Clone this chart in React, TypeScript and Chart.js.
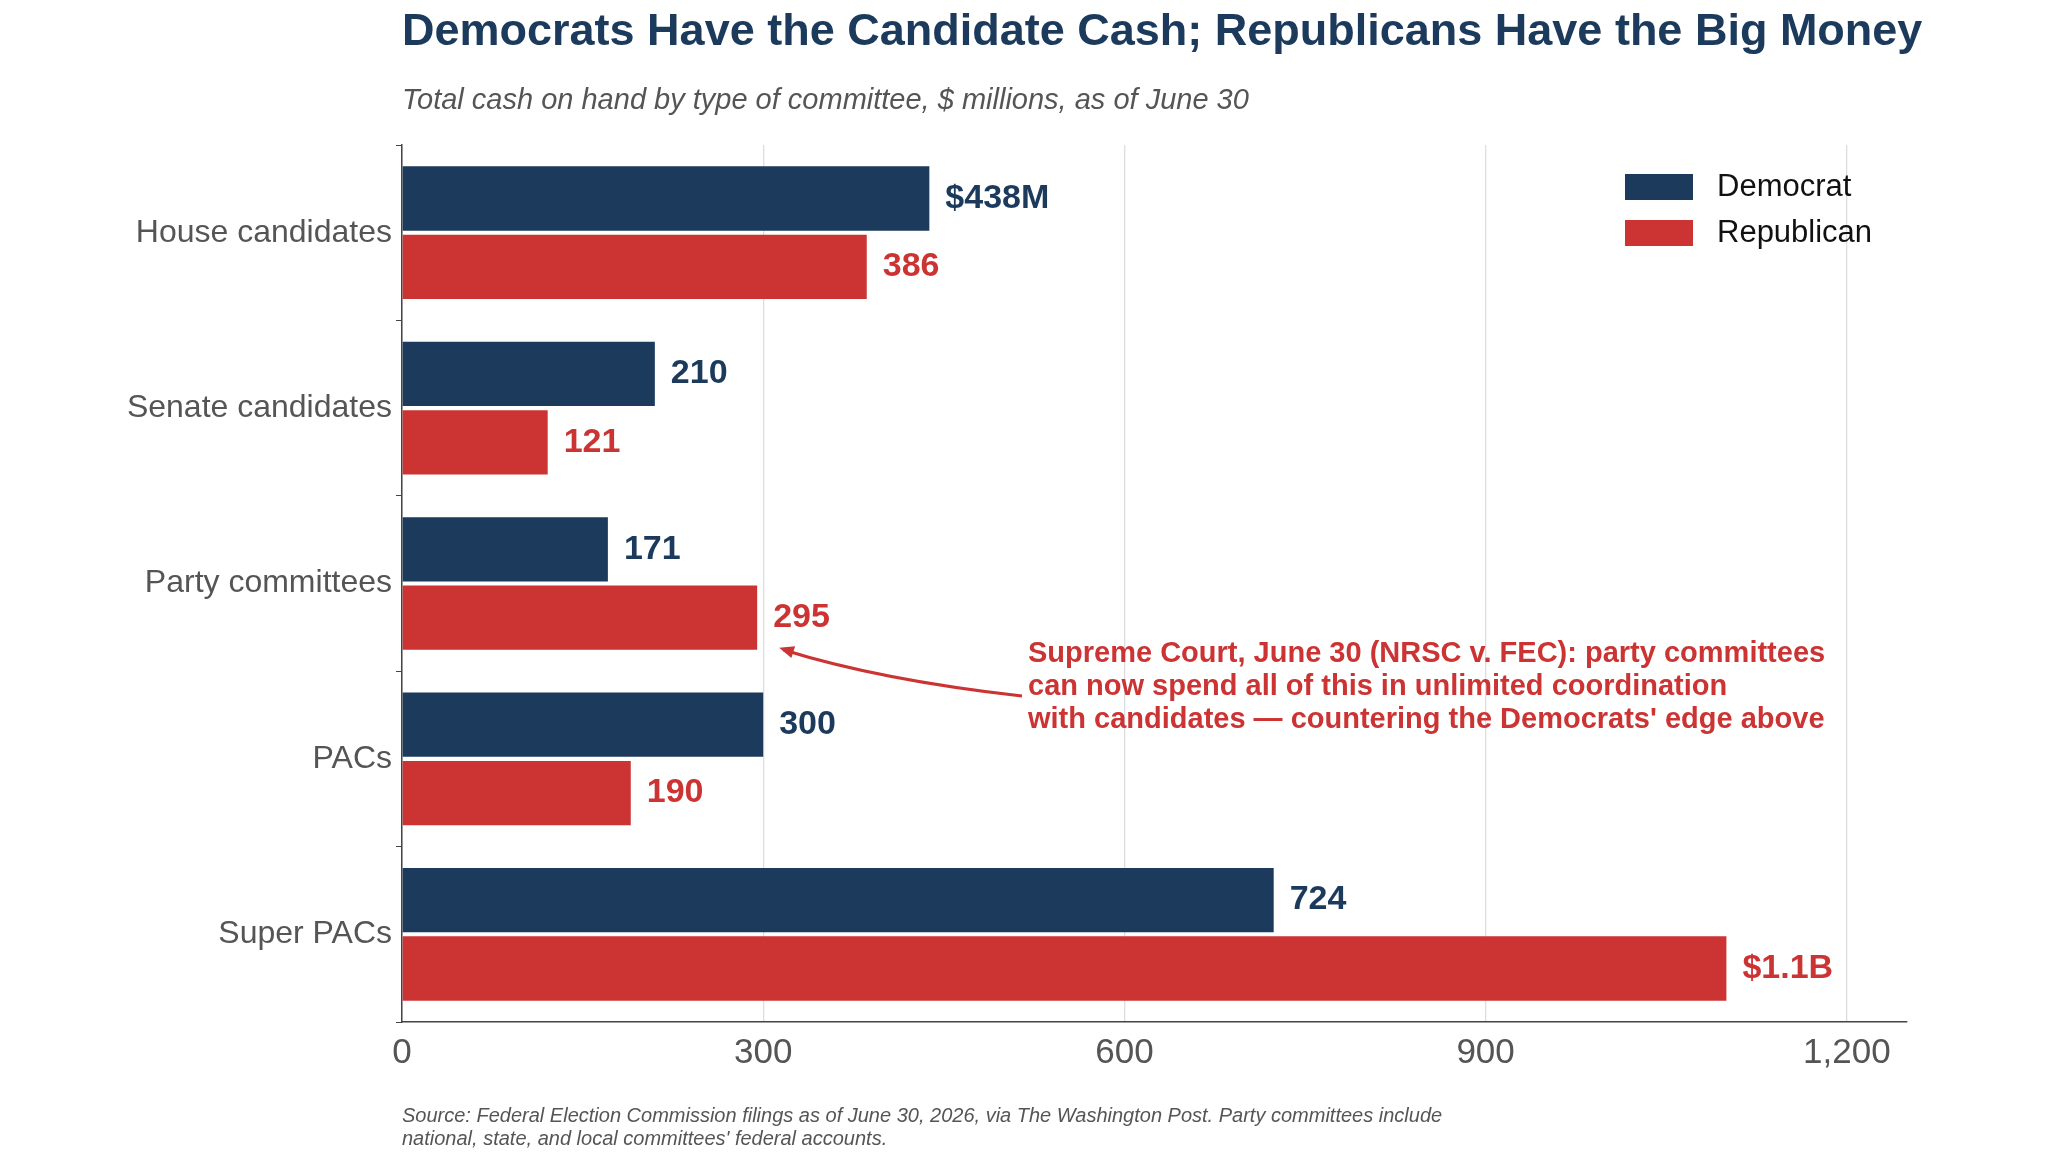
import React, { useEffect, useRef } from "react";
import { Chart, registerables } from "chart.js";
Chart.register(...registerables);

const categories = ["House candidates", "Senate candidates", "Party committees", "PACs", "Super PACs"];
const democrat = [438, 210, 171, 300, 724];
const republican = [386, 121, 295, 190, 1100];
const demLabels = ["$438M", "210", "171", "300", "724"];
const repLabels = ["386", "121", "295", "190", "$1.1B"];
const xTicks = [0, 300, 600, 900, 1200];

const NAVY = "#1b3a5c";
const RED = "#cc3333";
const FONT = "'Liberation Sans', Arial, sans-serif";

export default function App() {
  const ref = useRef<HTMLCanvasElement>(null);
  useEffect(() => {
    const overlay = {
      id: "overlay",
      afterDraw(chart: any) {
        const ctx = chart.ctx;
        ctx.save();
        ctx.textBaseline = "middle";
        ctx.textAlign = "left";
        ctx.fillStyle = NAVY;
        ctx.font = `bold 45px ${FONT}`;
        ctx.fillText("Democrats Have the Candidate Cash; Republicans Have the Big Money", 402, 33);
        ctx.fillStyle = "#555";
        ctx.font = `italic 29px ${FONT}`;
        ctx.fillText("Total cash on hand by type of committee, $ millions, as of June 30", 402, 101);
        ctx.font = `italic 20px ${FONT}`;
        ctx.fillText("Source: Federal Election Commission filings as of June 30, 2026, via The Washington Post. Party committees include", 402, 1116);
        ctx.fillText("national, state, and local committees' federal accounts.", 402, 1139);
        // value labels
        ctx.font = `bold 34px ${FONT}`;
        const sets = [[demLabels, NAVY], [repLabels, RED]] as const;
        sets.forEach(([labels, col], di) => {
          const meta = chart.getDatasetMeta(di);
          meta.data.forEach((bar: any, i: number) => {
            ctx.fillStyle = col;
            ctx.fillText(labels[i], bar.x + 16, bar.y);
          });
        });
        // legend
        const lg = [["Democrat", NAVY, 187], ["Republican", RED, 233]] as const;
        ctx.font = `31px ${FONT}`;
        lg.forEach(([t, c, y]) => {
          ctx.fillStyle = c;
          ctx.fillRect(1625, y - 13, 68, 26);
          ctx.fillStyle = "#111";
          ctx.fillText(t, 1717, y);
        });
        // annotation
        ctx.fillStyle = RED;
        ctx.font = `bold 29px ${FONT}`;
        const lines = [
          "Supreme Court, June 30 (NRSC v. FEC): party committees",
          "can now spend all of this in unlimited coordination",
          "with candidates \u2014 countering the Democrats' edge above",
        ];
        lines.forEach((l, i) => ctx.fillText(l, 1028, 654 + i * 33));
        const rb = chart.getDatasetMeta(1).data[2];
        const ex = rb.x + 22, ey = rb.y + 30;
        const sx = 1022, sy = 696;
        ctx.strokeStyle = RED;
        ctx.lineWidth = 3;
        ctx.beginPath();
        ctx.moveTo(sx, sy);
        ctx.quadraticCurveTo(880, 680, ex + 4, ey + 2);
        ctx.stroke();
        const ang = Math.atan2(ey + 2 - 680, ex + 4 - 880);
        ctx.beginPath();
        ctx.moveTo(ex, ey);
        ctx.lineTo(ex - 16 * Math.cos(ang - 0.4), ey - 16 * Math.sin(ang - 0.4));
        ctx.lineTo(ex - 16 * Math.cos(ang + 0.4), ey - 16 * Math.sin(ang + 0.4));
        ctx.closePath();
        ctx.fill();
        ctx.restore();
      },
    };
    const chart = new Chart(ref.current!, {
      type: "bar",
      data: {
        labels: categories,
        datasets: [
          { label: "Democrat", data: democrat, backgroundColor: NAVY },
          { label: "Republican", data: republican, backgroundColor: RED },
        ],
      },
      options: {
        indexAxis: "y",
        animation: false,
        responsive: false,
        categoryPercentage: 0.78,
        barPercentage: 0.94,
        layout: { padding: { top: 145, right: 141, bottom: 60, left: 0 } },
        plugins: { legend: { display: false }, tooltip: { enabled: false } },
        scales: {
          x: {
            min: 0,
            max: 1250,
            afterBuildTicks: (s: any) => { s.ticks = xTicks.map((v) => ({ value: v })); },
            afterFit: (s: any) => { s.height = 70; },
            grid: { color: "#dddddd", drawTicks: false, lineWidth: 1.3 },
            border: { color: "#444", width: 1.5 },
            ticks: { color: "#555", font: { family: FONT, size: 35 }, padding: 10 },
          },
          y: {
            afterFit: (s: any) => { s.width = 402; },
            grid: { drawOnChartArea: false, drawTicks: true, tickLength: 6, color: "#444" },
            border: { color: "#444", width: 1.5 },
            ticks: { color: "#555", font: { family: FONT, size: 32 }, padding: 4 },
          },
        },
      },
      plugins: [overlay],
    });
    return () => chart.destroy();
  }, []);
  return (
    <div style={{ position: "absolute", left: 0, top: 0, width: 2048, height: 1152, background: "#fff" }}>
      <canvas ref={ref} width={2048} height={1152} style={{ width: 2048, height: 1152 }} />
    </div>
  );
}
